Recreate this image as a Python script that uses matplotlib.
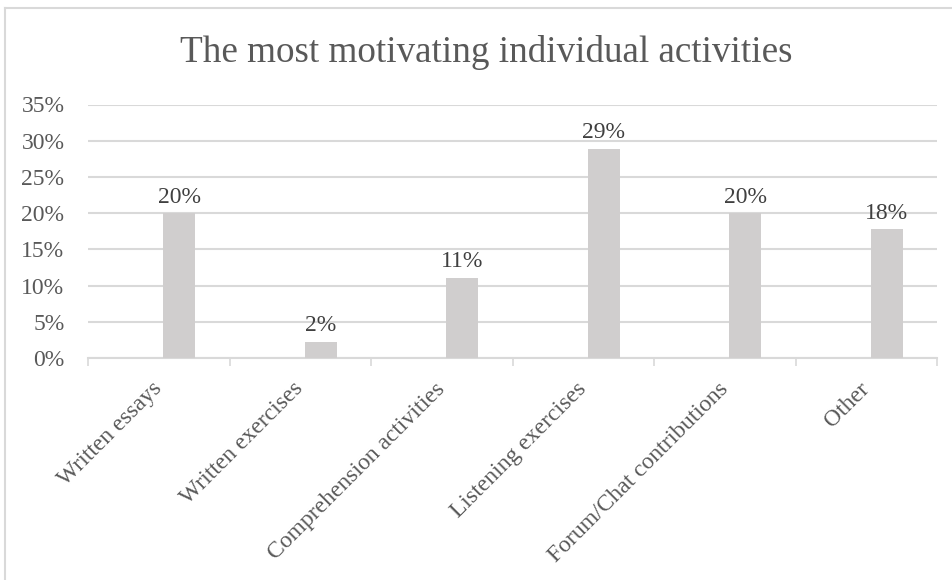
import matplotlib
matplotlib.use("Agg")
import matplotlib.pyplot as plt
from matplotlib.ticker import FuncFormatter, FixedLocator
import numpy as np

# data: answers out of 45 respondents
categories = ["Written essays", "Written exercises", "Comprehension activities",
              "Listening exercises", "Forum/Chat contributions", "Other"]
shares = [9 / 45, 1 / 45, 5 / 45, 13 / 45, 9 / 45, 8 / 45]
title = "The most motivating individual activities"

plt.rcParams['font.family'] = ['Liberation Serif', 'DejaVu Serif']
txt = '#595959'
grid = '#d9d9d9'
bar_col = '#d0cece'

fig = plt.figure(figsize=(9.52, 5.80), dpi=100)
ax = fig.add_axes([88 / 952, 1 - 358 / 580, (937 - 88) / 952, (358 - 104.5) / 580])

x = np.arange(len(categories))
bars = ax.bar(x + 0.145, shares, width=0.224, color=bar_col, zorder=3)
for b, v in zip(bars, shares):
    ax.annotate(f"{v * 100:.0f}%", (b.get_x() + b.get_width() / 2, v),
                xytext=(0, 4), textcoords='offset points',
                ha='center', va='bottom', fontsize=17, color='#404040')

ax.set_xlim(-0.5, len(categories) - 0.5)
ax.set_ylim(0, 0.35)
ax.set_yticks(np.arange(0, 0.351, 0.05))
ax.yaxis.set_major_formatter(FuncFormatter(lambda v, p: f"{v * 100:.0f}%"))
ax.grid(axis='y', color=grid, linewidth=1.5, zorder=0)

ax.set_xticks(x)
ax.set_xticklabels(categories, rotation=45, ha='right', va='center', rotation_mode='anchor')
ax.xaxis.set_minor_locator(FixedLocator(np.arange(-0.5, len(categories), 1.0)))
ax.tick_params(axis='x', which='major', length=0, pad=20, labelsize=17, labelcolor=txt)
ax.tick_params(axis='x', which='minor', length=6, width=1.2, color=grid)
ax.tick_params(axis='y', length=0, pad=17, labelsize=17, labelcolor=txt)

for s in ['top', 'right', 'left']:
    ax.spines[s].set_visible(False)
ax.spines['bottom'].set_color(grid)
ax.spines['bottom'].set_linewidth(1.5)

fig.text(486 / 952, 1 - 53 / 580, title, ha='center', va='center', fontsize=26.7, color=txt)

# chart area border (cut off at right and bottom)
fig.add_artist(plt.Line2D([5 / 952, 5 / 952], [0, 1 - 8 / 580], color=grid, linewidth=1.5,
                          transform=fig.transFigure))
fig.add_artist(plt.Line2D([5 / 952, 1], [1 - 8 / 580, 1 - 8 / 580], color=grid, linewidth=1.5,
                          transform=fig.transFigure))

fig.savefig("out.png", dpi=100, facecolor='white')
